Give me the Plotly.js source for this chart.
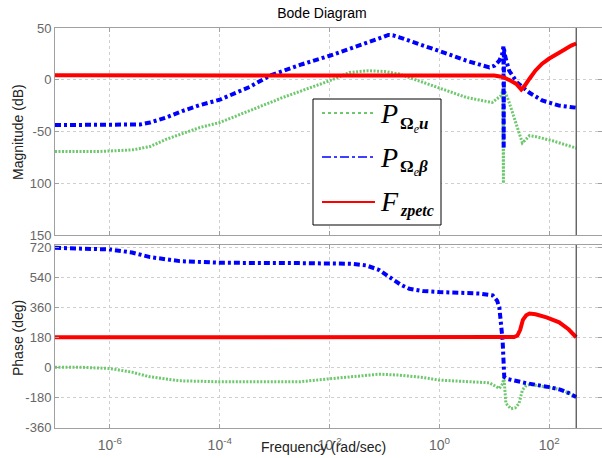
<!DOCTYPE html>
<html>
<head>
<meta charset="utf-8">
<script src="https://cdn.plot.ly/plotly-3.0.1.min.js"></script>
<style>html,body{margin:0;padding:0;background:#fff;}#chart{width:602px;height:458px;}</style>
</head>
<body>
<div id="chart"></div>
<script>
// ---- Data (log10 of frequency in rad/sec) ----
// F_zpetc
const fzMagLogW = [-7, 0.8, 1.0, 1.1, 1.18, 1.3, 1.4, 1.49, 1.55, 1.64, 1.75, 1.87, 2.0, 2.18, 2.3, 2.4, 2.49];
const fzMag     = [4.3, 4.3, 4.0, 3.2, 2.0, -1, -4, -9.5, -6, 1, 9, 15.5, 20.5, 26, 30, 33, 35];
const fzPhLogW  = [-7, 1.3, 1.36, 1.42, 1.47, 1.52, 1.58, 1.64, 1.75, 1.95, 2.18, 2.35, 2.45, 2.49];
const fzPhase   = [180, 180, 181, 190, 225, 285, 312, 323, 318, 300, 270, 228, 195, 180];

// P_{Omega_e beta}
const pbMagLogW = [-7, -6.18, -5.82, -5.45, -5.27, -4.97, -4.67, -4.36, -4.0, -3.76, -3.45, -3.09, -2.85, -2.5, -2.0, -1.45, -1.2, -1.04, -0.93, -0.85, -0.73, -0.5, -0.13, 0.2, 0.49, 0.75, 0.91, 1.0, 1.09, 1.14, 1.165, 1.17, 1.175, 1.2, 1.27, 1.42, 1.64, 1.87, 2.18, 2.49];
const pbMag     = [-43.8, -43.8, -43.8, -43.2, -41.3, -36.4, -30, -24.5, -19.3, -13.8, -6.8, 4, 8.7, 15, 23.2, 32.9, 38, 41, 43.3, 43, 41, 37, 29.7, 24, 18.4, 14, 11.9, 13.5, 18.4, 24, 32, -66, 30, 22, 8.7, -3, -12.6, -20, -25, -27];
const pbPhLogW  = [-7, -6.5, -6.0, -5.6, -5.27, -4.73, -4.0, -2.55, -1.6, -1.33, -1.1, -0.91, -0.7, -0.55, -0.3, 0, 0.5, 0.73, 0.97, 1.05, 1.09, 1.15, 1.18, 1.25, 1.33, 1.58, 2.0, 2.2, 2.35, 2.49];
const pbPhase   = [718, 716, 708, 690, 662, 638, 628, 626, 622, 612, 585, 542, 495, 472, 458, 452, 448, 443, 432, 400, 362, 162, -58, -72, -78, -96, -120, -135, -155, -180];

// P_{Omega_e u}
const puMagLogW = [-7, -6.18, -5.58, -5.27, -4.97, -4.67, -4.36, -4.0, -3.76, -3.45, -2.85, -2.0, -1.64, -1.3, -1.0, -0.73, -0.13, 0.49, 0.96, 1.12, 1.155, 1.165, 1.17, 1.2, 1.27, 1.51, 1.64, 1.76, 2.06, 2.49];
const puMag     = [-69.3, -69.3, -67.7, -64.5, -57.4, -51.5, -46.1, -41.3, -36.4, -30, -17.1, -1, 7, 8.7, 8, 5.5, -5.8, -17.1, -22, -15.5, -10, -100, -8, -12, -22, -61, -54, -55, -59, -66];
const puPhLogW  = [-7, -6.5, -6.0, -5.6, -5.27, -4.73, -4.0, -2.55, -2.0, -1.33, -1.09, -0.73, -0.3, 0, 0.5, 0.91, 1.09, 1.15, 1.175, 1.21, 1.3, 1.38, 1.45, 1.51, 1.58, 1.64, 1.94, 2.2, 2.35, 2.49];
const puPhase   = [0, -1, -8, -30, -58, -82, -88, -88, -70, -48, -42, -48, -62, -78, -88, -94, -128, -100, -62, -218, -250, -245, -218, -138, -110, -105, -118, -135, -155, -180];

const magTickVals = [50, 0, -50, -100, -150];
const magTickText = ['50', '0', '-50', '100', '150'];
const phTickVals  = [720, 540, 360, 180, 0, -180, -360];
const phTickText  = ['720', '540', '360', '180', '0', '-180', '-360'];
const freqTickVals = [1e-6, 1e-4, 1e-2, 1, 1e2];
const freqTickText = ['10<sup>-6</sup>', '10<sup>-4</sup>', '10<sup>-2</sup>', '10<sup>0</sup>', '10<sup>2</sup>'];

// ---- Styles ----
const toW = a => a.map(v => Math.pow(10, v));
const GREEN = 'rgb(110,200,110)';
const BLUE = 'rgb(0,0,255)';
const RED = 'rgb(255,0,0)';
const greenLine = {color: GREEN, width: 3, dash: '2px,1.5px'};
const blueLine = {color: BLUE, width: 4, dash: '6px,3px,3px,3px'};
const redLine = {color: RED, width: 4};

const traces = [
  {x: toW(puMagLogW), y: puMag, xaxis: 'x2', yaxis: 'y', mode: 'lines', line: greenLine, name: 'P_Ωe u'},
  {x: toW(pbMagLogW), y: pbMag, xaxis: 'x2', yaxis: 'y', mode: 'lines', line: blueLine, name: 'P_Ωe β'},
  {x: toW(fzMagLogW), y: fzMag, xaxis: 'x2', yaxis: 'y', mode: 'lines', line: redLine, name: 'F_zpetc'},
  {x: toW(puPhLogW), y: puPhase, xaxis: 'x', yaxis: 'y2', mode: 'lines', line: greenLine, name: 'P_Ωe u'},
  {x: toW(pbPhLogW), y: pbPhase, xaxis: 'x', yaxis: 'y2', mode: 'lines', line: blueLine, name: 'P_Ωe β'},
  {x: toW(fzPhLogW), y: fzPhase, xaxis: 'x', yaxis: 'y2', mode: 'lines', line: redLine, name: 'F_zpetc'}
];

// pixel -> paper helpers (plot area: x 55..602, y 28..428)
const L = 55, R = 602, T = 28, B = 428;
const px = x => (x - L) / (R - L);
const py = y => (B - y) / (B - T);

const tickFont = {family: 'Liberation Sans, Arial, sans-serif', size: 13, color: '#666'};
const axisCommon = {
  showline: true, linecolor: '#a0a0a0', linewidth: 1, mirror: 'ticks',
  ticks: 'inside', ticklen: 4, tickcolor: '#a0a0a0',
  showgrid: true, gridcolor: '#cfcfcf', griddash: 'dot', gridwidth: 1,
  zeroline: false, tickfont: tickFont
};

const endW = Math.pow(10, fzMagLogW[fzMagLogW.length - 1]);
const serif = 'Liberation Serif, Times New Roman, serif';
const ann = (x, y, text, size, extra) => Object.assign({
  xref: 'paper', yref: 'paper', x: px(x), y: py(y), text: text, showarrow: false,
  xanchor: 'center', yanchor: 'middle', font: {family: serif, size: size, color: '#000'}
}, extra || {});

const layout = {
  width: 602, height: 458,
  margin: {l: L, r: 602 - R, t: T, b: 458 - B, pad: 0},
  paper_bgcolor: '#fff', plot_bgcolor: '#fff',
  showlegend: false,
  title: {text: 'Bode Diagram', x: 322 / 602, xanchor: 'center', y: 1 - 13 / 458, yanchor: 'middle',
          font: {family: 'Liberation Sans, Arial, sans-serif', size: 14, color: '#000'}},
  xaxis: Object.assign({}, axisCommon, {type: 'log', range: [-7, 2.96], anchor: 'y2',
          tickmode: 'array', tickvals: freqTickVals, ticktext: freqTickText, ticklabelstandoff: 4,
          tickfont: {family: 'Liberation Sans, Arial, sans-serif', size: 14, color: '#666'}}),
  xaxis2: Object.assign({}, axisCommon, {type: 'log', range: [-7, 2.96], anchor: 'y', matches: 'x',
          tickmode: 'array', tickvals: freqTickVals, showticklabels: false}),
  yaxis: Object.assign({}, axisCommon, {domain: [py(235), 1], range: [-150, 50],
          tickmode: 'array', tickvals: magTickVals, ticktext: magTickText}),
  yaxis2: Object.assign({}, axisCommon, {domain: [0, py(245)], range: [-366, 735],
          tickmode: 'array', tickvals: phTickVals, ticktext: phTickText}),
  shapes: [
    {type: 'line', xref: 'x2', yref: 'y domain', x0: endW, x1: endW, y0: 0, y1: 1, line: {color: '#222', width: 1}},
    {type: 'line', xref: 'x', yref: 'y2 domain', x0: endW, x1: endW, y0: 0, y1: 1, line: {color: '#222', width: 1}},
    // legend box
    {type: 'rect', xref: 'paper', yref: 'paper', x0: px(313), x1: px(441), y0: py(225), y1: py(99),
     fillcolor: '#fff', line: {color: '#000', width: 1}, layer: 'above'},
    {type: 'line', xref: 'paper', yref: 'paper', x0: px(322), x1: px(375), y0: py(113), y1: py(113),
     line: {color: GREEN, width: 2, dash: 'dot'}, layer: 'above'},
    {type: 'line', xref: 'paper', yref: 'paper', x0: px(322), x1: px(375), y0: py(157), y1: py(157),
     line: {color: BLUE, width: 1.5, dash: 'dashdot'}, layer: 'above'},
    {type: 'line', xref: 'paper', yref: 'paper', x0: px(322), x1: px(375), y0: py(202), y1: py(202),
     line: {color: RED, width: 2}, layer: 'above'}
  ],
  annotations: [
    // axis titles
    {xref: 'paper', yref: 'paper', x: px(18), y: py(132), text: 'Magnitude (dB)', textangle: -90, showarrow: false,
     xanchor: 'center', yanchor: 'middle', font: {family: 'Liberation Sans, Arial, sans-serif', size: 14, color: '#222'}},
    {xref: 'paper', yref: 'paper', x: px(18), y: py(338), text: 'Phase (deg)', textangle: -90, showarrow: false,
     xanchor: 'center', yanchor: 'middle', font: {family: 'Liberation Sans, Arial, sans-serif', size: 14, color: '#222'}},
    {xref: 'paper', yref: 'paper', x: px(323), y: py(447), text: 'Frequency (rad/sec)', showarrow: false,
     xanchor: 'center', yanchor: 'middle', font: {family: 'Liberation Sans, Arial, sans-serif', size: 14, color: '#222'}},
    // legend entries
    ann(389, 113, '<i>P</i>', 28),
    ann(398, 125, '<b>Ω</b><sub><i>e</i></sub><b><i>u</i></b>', 17, {xanchor: 'left'}),
    ann(389, 158, '<i>P</i>', 28),
    ann(398, 168, '<b>Ω</b><sub><i>e</i></sub><b><i>β</i></b>', 17, {xanchor: 'left'}),
    ann(389, 201, '<i>F</i>', 28),
    ann(398, 211, '<b><i>zpetc</i></b>', 16, {xanchor: 'left'})
  ]
};

Plotly.newPlot('chart', traces, layout, {displayModeBar: false, staticPlot: true});
</script>
</body>
</html>
